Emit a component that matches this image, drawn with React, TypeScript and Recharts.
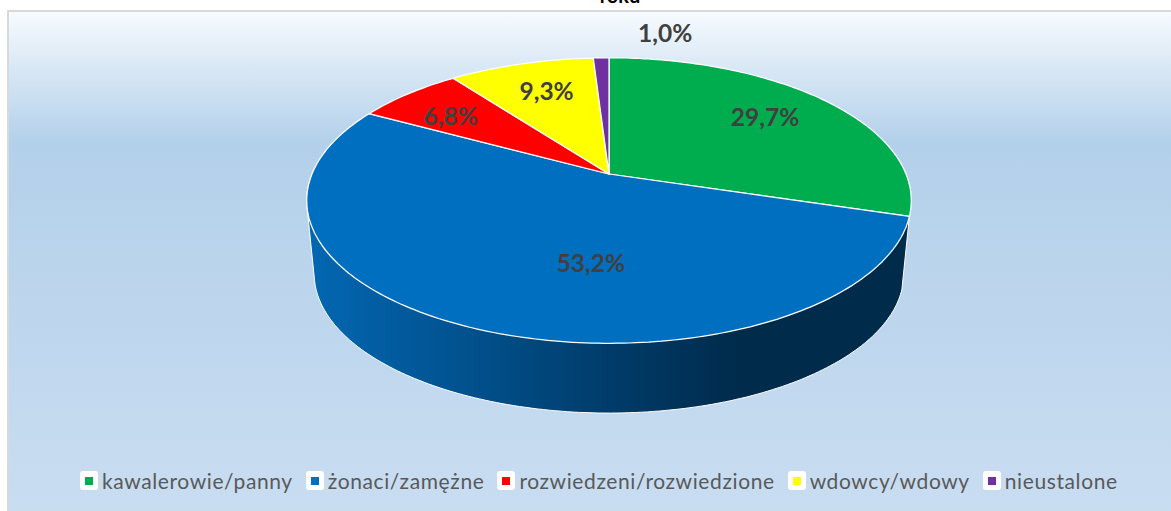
import { Legend, Pie, PieChart } from "recharts";

const categories = ["kawalerowie/panny", "żonaci/zamężne", "rozwiedzeni/rozwiedzione", "wdowcy/wdowy", "nieustalone"];
const shares = [29.7, 53.2, 6.8, 9.3, 1.0];
const sliceColors = ["#00ad4e", "#006fc0", "#ff0000", "#ffff00", "#7030a0"];
const labelNudges = [[1, -4], [73, -13], [-13, -1], [2, -3], [62, -56]];

const WIDTH = 1171;
const HEIGHT = 511;
const RADIAN = Math.PI / 180;
const TILT = 0.464; // how flat the top face is
const PERSPECTIVE = 0.186; // far edge looks smaller than the near edge
const WALL_SCALE = 0.975;
const WALL_DROP = 74;
const FONT = "Lato, sans-serif";

const pieData = categories.map((name, i) => ({ name, value: shares[i], fill: sliceColors[i] }));

// recharts angle (degrees, counter clockwise from 3 o'clock) to a point on the tilted disc
function project(cx: number, cy: number, radius: number, angle: number, r = 1) {
    const u = Math.cos(angle * RADIAN) * r;
    const v = Math.sin(angle * RADIAN) * r;
    const w = 1 + PERSPECTIVE * v;
    return { x: cx + (radius * u) / w, y: cy - (radius * TILT * v) / w };
}

function toPath(points: { x: number; y: number }[]) {
    return points.map((p, i) => `${i ? "L" : "M"}${p.x.toFixed(1)},${p.y.toFixed(1)}`).join(" ") + " Z";
}

function arc(cx: number, cy: number, radius: number, start: number, end: number) {
    const steps = Math.max(2, Math.ceil(Math.abs(end - start)));
    const points = [];
    for (let i = 0; i <= steps; i++) {
        points.push(project(cx, cy, radius, start + ((end - start) * i) / steps));
    }
    return points;
}

function convexHull(points: { x: number; y: number }[]) {
    const sorted = [...points].sort((a, b) => a.x - b.x || a.y - b.y);
    const cross = (o: any, a: any, b: any) => (a.x - o.x) * (b.y - o.y) - (a.y - o.y) * (b.x - o.x);
    const half = (list: { x: number; y: number }[]) => {
        const out: { x: number; y: number }[] = [];
        for (const p of list) {
            while (out.length >= 2 && cross(out[out.length - 2], out[out.length - 1], p) <= 0) out.pop();
            out.push(p);
        }
        out.pop();
        return out;
    };
    return [...half(sorted), ...half([...sorted].reverse())];
}

const renderTop = (props: any) => {
    const { cx, cy, outerRadius, startAngle, endAngle, fill } = props;
    const points = [{ x: cx, y: cy }, ...arc(cx, cy, outerRadius, startAngle, endAngle)];
    return <path d={toPath(points)} fill={fill} stroke="#ffffff" strokeWidth={1.25} strokeLinejoin="round" />;
};

// the side wall only shows for the slice that holds the front of the disc
const renderWall = (props: any) => {
    const { cx, cy, outerRadius, startAngle, endAngle } = props;
    if (!(startAngle > -90 && endAngle < -90)) return null;
    const upper = arc(cx, cy, outerRadius, startAngle, endAngle);
    const lower = arc(cx, cy + WALL_DROP, outerRadius * WALL_SCALE, startAngle, endAngle);
    return (
        <g>
            <defs>
                <linearGradient id="wall" gradientUnits="userSpaceOnUse" x1={315} x2={903} y1={0} y2={0}>
                    <stop offset="0%" stopColor="#0366b1" />
                    <stop offset="25%" stopColor="#01528f" />
                    <stop offset="50%" stopColor="#003c6a" />
                    <stop offset="72%" stopColor="#002b4b" />
                    <stop offset="100%" stopColor="#002b4a" />
                </linearGradient>
            </defs>
            <path d={toPath(convexHull([...upper, ...lower]))} fill="url(#wall)" stroke="#ffffff" strokeWidth={1} />
        </g>
    );
};

const renderLabel = (props: any) => {
    const { cx, cy, outerRadius, midAngle, index, percent } = props;
    const p = project(cx, cy, outerRadius, midAngle, 0.7);
    const [dx, dy] = labelNudges[index];
    return (
        <text
            x={p.x + dx}
            y={p.y + dy}
            fill="#404040"
            textAnchor="middle"
            dominantBaseline="central"
            fontFamily={FONT}
            fontWeight={700}
            fontSize={24.5}
        >
            {`${(percent * 100).toFixed(1).replace(".", ",")}%`}
        </text>
    );
};

const renderLegend = ({ payload }: any) => (
    <div style={{ display: "flex", alignItems: "center", height: 19 }}>
        {(payload ?? [])
            .filter((entry: any) => entry.type !== "none")
            .map((entry: any, i: number) => (
                <div key={entry.value} style={{ display: "flex", alignItems: "center", marginLeft: i ? 13 : 0 }}>
                    <div
                        style={{
                            width: 18,
                            height: 19,
                            background: "#ffffff",
                            borderRadius: 3,
                            display: "flex",
                            alignItems: "center",
                            justifyContent: "center",
                            marginRight: 4,
                        }}
                    >
                        <div style={{ width: 8, height: 8, background: entry.color }} />
                    </div>
                    <span
                        style={{
                            fontFamily: FONT,
                            fontSize: 21,
                            letterSpacing: 0.6,
                            color: "#595959",
                            whiteSpace: "nowrap",
                            lineHeight: "19px",
                        }}
                    >
                        {entry.value}
                    </span>
                </div>
            ))}
    </div>
);

export default function App() {
    return (
        <div style={{ position: "absolute", left: 0, top: 0, width: WIDTH, height: HEIGHT, background: "#ffffff", overflow: "hidden" }}>
            <div
                style={{
                    position: "absolute",
                    left: 7,
                    top: 10,
                    width: WIDTH,
                    height: HEIGHT,
                    borderLeft: "2px solid #d9d9d9",
                    borderTop: "2px solid #d9d9d9",
                    background: "linear-gradient(180deg, #f6fafe 0px, #b3d0ea 130px, #c9ddf1 500px)",
                }}
            />
            <PieChart width={WIDTH} height={HEIGHT} margin={{ top: 0, right: 0, bottom: 0, left: 0 }} style={{ position: "absolute", left: 0, top: 0 }}>
                <text x={620} y={3} textAnchor="middle" fontFamily={FONT} fontWeight={700} fontSize={20} fill="#000000">
                    roku
                </text>
                <Pie
                    data={pieData}
                    dataKey="value"
                    nameKey="name"
                    cx={609}
                    cy={174}
                    outerRadius={297}
                    startAngle={90}
                    endAngle={-270}
                    legendType="none"
                    shape={renderWall}
                    isAnimationActive={false}
                />
                <Pie
                    data={pieData}
                    dataKey="value"
                    nameKey="name"
                    cx={609}
                    cy={174}
                    outerRadius={297}
                    startAngle={90}
                    endAngle={-270}
                    shape={renderTop}
                    label={renderLabel}
                    labelLine={false}
                    isAnimationActive={false}
                />
                <Legend
                    content={renderLegend}
                    itemSorter={null}
                    wrapperStyle={{ position: "absolute", left: 80, top: 471, width: 1080, bottom: "auto" }}
                />
            </PieChart>
        </div>
    );
}
